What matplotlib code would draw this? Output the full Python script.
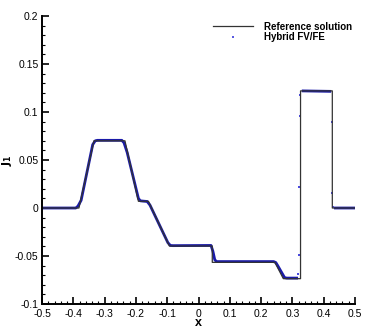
import numpy as np
import matplotlib
matplotlib.use("Agg")
import matplotlib.pyplot as plt
from matplotlib.ticker import MultipleLocator

# reference solution (piecewise linear)
ref_x = [-0.5, -0.382, -0.334, -0.235, -0.192, -0.160, -0.093, 0.044, 0.044,
         0.244, 0.271, 0.326, 0.326, 0.4275, 0.4275, 0.5]
ref_y = [0.0, 0.0, 0.070, 0.070, 0.007, 0.007, -0.0396, -0.0396, -0.0566,
         -0.0566, -0.0736, -0.0736, 0.122, 0.122, 0.0, 0.0]

# hybrid FV/FE - smooth part of the dense dot cloud
hyb_x = [-0.5, -0.392, -0.385, -0.375, -0.338, -0.330, -0.323, -0.245, -0.238,
         -0.228, -0.192, -0.186, -0.178, -0.164, -0.155, -0.098, -0.090, -0.082,
         0.040, 0.046, 0.052, 0.058, 0.240, 0.247, 0.253, 0.275, 0.282, 0.318,
         np.nan, 0.330, 0.424,
         np.nan, 0.433, 0.5]
hyb_y = [0.0, 0.0, 0.002, 0.008, 0.066, 0.070, 0.0705, 0.0705, 0.068,
         0.058, 0.010, 0.0075, 0.0072, 0.0068, 0.003, -0.036, -0.0390, -0.0392,
         -0.0390, -0.045, -0.054, -0.0558, -0.0558, -0.0568, -0.060, -0.0725, -0.0730, -0.0730,
         np.nan, 0.1220, 0.1215,
         np.nan, 0.0, 0.0]

# isolated hybrid points on the two jumps
jump_x = [0.319, 0.321, 0.322, 0.323, 0.324, 0.427, 0.428, 0.429]
jump_y = [-0.069, -0.049, 0.0215, 0.096, 0.118, 0.090, 0.016, 0.001]

xtick_labels = ['-0.5', '-0.4', '-0.3', '-0.2', '-0.1', '0', '0.1', '0.2',
                '0.3', '0.4', '0.5']
ytick_labels = ['-0.1', '-0.05', '0', '0.05', '0.1', '0.15', '0.2']

plt.rcParams['font.family'] = ['Liberation Sans', 'DejaVu Sans']

fig = plt.figure(figsize=(3.74, 3.32), dpi=100)
ax = fig.add_axes([0.1123, 0.0843, 0.8369, 0.8675])

blue = '#1a1aa8'
ax.plot(hyb_x, hyb_y, color=blue, lw=2.0, solid_capstyle='butt')
ax.plot(jump_x, jump_y, ls='none', marker='s', ms=1.6, color='#4a4ae0', mew=0)
ax.plot(ref_x, ref_y, color='#333333', lw=0.9)

# legend proxies
h1, = ax.plot([], [], color='#333333', lw=0.9, label='Reference solution')
h2, = ax.plot([], [], ls='none', marker='s', ms=1.8, color='#5a5ae0', mew=0,
              label='Hybrid FV/FE')
ax.legend(handles=[h1, h2], loc='upper right', frameon=False,
          prop={'weight': 'bold', 'size': 7}, handlelength=4.2,
          handletextpad=1.1, labelspacing=0.05,
          bbox_to_anchor=(1.01, 1.0), borderaxespad=0.2)

ax.set_xlim(-0.5, 0.5)
ax.set_ylim(-0.1, 0.2)
ax.set_xticks(np.arange(-0.5, 0.51, 0.1))
ax.set_xticklabels(xtick_labels)
ax.set_yticks(np.arange(-0.1, 0.201, 0.05))
ax.set_yticklabels(ytick_labels)
ax.xaxis.set_minor_locator(MultipleLocator(0.02))
ax.yaxis.set_minor_locator(MultipleLocator(0.01))

for s in ['top', 'right']:
    ax.spines[s].set_visible(False)
for s in ['left', 'bottom']:
    ax.spines[s].set_linewidth(1.4)

ax.tick_params(which='major', direction='in', length=5, width=1.2,
               labelsize=7.5)
ax.tick_params(axis='x', which='major', pad=3.5)
ax.tick_params(axis='y', which='major', pad=2.5)
ax.tick_params(which='minor', direction='in', length=2.5, width=0.8)

ax.set_xlabel('x', fontsize=9, fontweight='bold', labelpad=-1)
ax.set_ylabel(r'$\mathbf{J_1}$', fontsize=8)
ax.yaxis.set_label_coords(-0.088, 0.5)

fig.savefig('out.png', dpi=100)
